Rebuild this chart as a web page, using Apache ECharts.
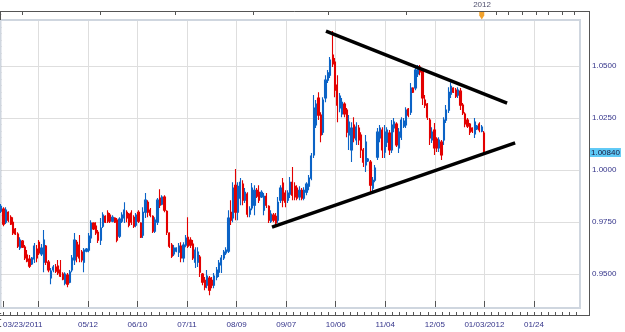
<!DOCTYPE html>
<html><head><meta charset="utf-8">
<script src="https://cdn.jsdelivr.net/npm/echarts@6/dist/echarts.min.js"></script>
<style>html,body{margin:0;padding:0;background:#fff}#c{width:625px;height:332px}</style>
</head><body><div id="c"></div>
<script>
// ---- data (daily candles, 03/23/2011 .. 01/03/2012) ----
const startDate = '2011-03-23';
const nSlots = 245; // 205 trading days + empty future space

const opens = [
0.9802,0.9812,0.9749,0.9797,0.9773,0.9749,0.9716,0.9692,0.9625,0.9658,
0.9629,0.9591,0.9572,0.9548,0.9572,0.9620,0.9653,0.9596,0.9557,0.9634,
0.9557,0.9481,0.9519,0.9534,0.9538,0.9519,0.9500,0.9456,0.9495,0.9460,
0.9519,0.9567,0.9653,0.9639,0.9605,0.9557,0.9610,0.9615,0.9673,0.9745,
0.9730,0.9701,0.9663,0.9730,0.9778,0.9793,0.9783,0.9754,0.9769,0.9759,
0.9682,0.9754,0.9769,0.9797,0.9788,0.9793,0.9773,0.9735,0.9797,0.9745,
0.9687,0.9797,0.9845,0.9807,0.9778,0.9706,0.9749,0.9865,0.9836,0.9870,
0.9802,0.9697,0.9639,0.9596,0.9610,0.9605,0.9634,0.9577,0.9639,0.9677,
0.9663,0.9644,0.9557,0.9557,0.9582,0.9500,0.9470,0.9446,0.9481,0.9470,
0.9446,0.9485,0.9509,0.9543,0.9577,0.9601,0.9610,0.9797,0.9769,0.9927,
0.9797,0.9865,0.9932,0.9855,0.9884,0.9788,0.9817,0.9831,0.9903,0.9893,
0.9870,0.9807,0.9874,0.9826,0.9754,0.9783,0.9778,0.9759,0.9855,0.9937,
0.9889,0.9855,0.9884,0.9941,0.9922,0.9913,0.9870,0.9903,0.9865,0.9893,
0.9922,0.9961,1.0072,1.0216,1.0346,1.0264,1.0182,1.0346,1.0432,1.0456,
1.0553,1.0519,1.0408,1.0298,1.0269,1.0317,1.0288,1.0168,1.0096,1.0216,
1.0144,1.0202,1.0168,1.0096,1.0024,1.0043,1.0038,0.9913,0.9951,1.0062,
1.0154,1.0192,1.0086,1.0134,1.0178,1.0096,1.0202,1.0221,1.0106,1.0158,
1.0211,1.0216,1.0293,1.0278,1.0394,1.0394,1.0462,1.0495,1.0481,1.0336,
1.0317,1.0240,1.0144,1.0192,1.0149,1.0106,1.0134,1.0144,1.0240,1.0288,
1.0365,1.0394,1.0384,1.0360,1.0379,1.0312,1.0269,1.0240,1.0221,1.0202,
1.0173,1.0197,1.0221,1.0187,1.0178];

const closes = [
0.9826,0.9740,0.9807,0.9759,0.9740,0.9697,0.9692,0.9634,0.9663,0.9629,
0.9577,0.9562,0.9538,0.9577,0.9634,0.9577,0.9601,0.9625,0.9663,0.9557,
0.9519,0.9514,0.9534,0.9514,0.9505,0.9490,0.9475,0.9500,0.9451,0.9509,
0.9577,0.9663,0.9586,0.9577,0.9567,0.9615,0.9620,0.9682,0.9745,0.9716,
0.9697,0.9663,0.9721,0.9783,0.9749,0.9754,0.9754,0.9773,0.9749,0.9663,
0.9764,0.9783,0.9807,0.9769,0.9735,0.9749,0.9730,0.9783,0.9754,0.9677,
0.9797,0.9855,0.9797,0.9783,0.9706,0.9759,0.9855,0.9831,0.9870,0.9807,
0.9701,0.9634,0.9586,0.9625,0.9625,0.9634,0.9577,0.9639,0.9673,0.9634,
0.9639,0.9577,0.9615,0.9605,0.9509,0.9460,0.9436,0.9490,0.9422,0.9446,
0.9490,0.9519,0.9553,0.9577,0.9605,0.9615,0.9769,0.9759,0.9913,0.9797,
0.9922,0.9941,0.9855,0.9893,0.9788,0.9812,0.9913,0.9903,0.9874,0.9855,
0.9893,0.9874,0.9831,0.9759,0.9788,0.9759,0.9745,0.9845,0.9913,0.9855,
0.9845,0.9889,0.9941,0.9879,0.9870,0.9865,0.9903,0.9865,0.9903,0.9932,
0.9961,1.0067,1.0298,1.0317,1.0264,1.0168,1.0336,1.0432,1.0467,1.0529,
1.0510,1.0384,1.0312,1.0355,1.0326,1.0269,1.0182,1.0230,1.0202,1.0154,
1.0206,1.0144,1.0096,1.0038,1.0134,1.0053,0.9927,0.9951,1.0009,1.0182,
1.0202,1.0096,1.0182,1.0192,1.0096,1.0216,1.0230,1.0120,1.0182,1.0240,
1.0235,1.0288,1.0264,1.0394,1.0374,1.0481,1.0495,1.0471,1.0346,1.0312,
1.0254,1.0154,1.0182,1.0106,1.0106,1.0144,1.0072,1.0240,1.0288,1.0374,
1.0403,1.0374,1.0355,1.0384,1.0312,1.0274,1.0221,1.0211,1.0182,1.0187,
1.0230,1.0211,1.0192,1.0206,1.0084];

const lows = [
0.9793,0.9730,0.9740,0.9749,0.9735,0.9687,0.9687,0.9625,0.9615,0.9625,
0.9567,0.9557,0.9529,0.9543,0.9553,0.9557,0.9591,0.9586,0.9509,0.9543,
0.9509,0.9451,0.9509,0.9505,0.9495,0.9485,0.9470,0.9446,0.9436,0.9456,
0.9509,0.9543,0.9557,0.9557,0.9557,0.9509,0.9605,0.9605,0.9649,0.9711,
0.9687,0.9649,0.9639,0.9721,0.9745,0.9745,0.9745,0.9749,0.9745,0.9653,
0.9673,0.9745,0.9745,0.9749,0.9725,0.9735,0.9721,0.9725,0.9745,0.9673,
0.9673,0.9769,0.9773,0.9773,0.9697,0.9697,0.9735,0.9817,0.9831,0.9797,
0.9687,0.9625,0.9577,0.9586,0.9605,0.9582,0.9557,0.9557,0.9629,0.9625,
0.9625,0.9567,0.9529,0.9534,0.9485,0.9446,0.9422,0.9432,0.9398,0.9432,
0.9432,0.9470,0.9485,0.9505,0.9567,0.9591,0.9601,0.9735,0.9749,0.9759,
0.9759,0.9831,0.9831,0.9841,0.9773,0.9773,0.9807,0.9783,0.9865,0.9841,
0.9865,0.9783,0.9817,0.9745,0.9745,0.9749,0.9735,0.9745,0.9841,0.9821,
0.9821,0.9841,0.9865,0.9855,0.9855,0.9855,0.9855,0.9855,0.9855,0.9879,
0.9903,0.9951,1.0058,1.0202,1.0240,1.0134,1.0168,1.0326,1.0418,1.0442,
1.0495,1.0350,1.0230,1.0278,1.0254,1.0254,1.0158,1.0096,1.0038,1.0134,
1.0120,1.0120,1.0058,1.0014,0.9990,1.0038,0.9893,0.9893,0.9941,1.0048,
1.0134,1.0058,1.0058,1.0110,1.0072,1.0082,1.0182,1.0110,1.0082,1.0144,
1.0202,1.0202,1.0254,1.0264,1.0370,1.0384,1.0447,1.0456,1.0312,1.0298,
1.0240,1.0120,1.0130,1.0072,1.0086,1.0086,1.0048,1.0120,1.0226,1.0274,
1.0346,1.0370,1.0346,1.0346,1.0288,1.0264,1.0206,1.0202,1.0168,1.0178,
1.0154,1.0192,1.0182,1.0182,1.0082];

const highs = [
0.9836,0.9821,0.9821,0.9802,0.9783,0.9773,0.9721,0.9701,0.9677,0.9663,
0.9639,0.9615,0.9591,0.9582,0.9649,0.9639,0.9663,0.9644,0.9711,0.9639,
0.9567,0.9529,0.9543,0.9548,0.9567,0.9567,0.9509,0.9509,0.9505,0.9519,
0.9591,0.9697,0.9663,0.9687,0.9615,0.9625,0.9625,0.9697,0.9759,0.9749,
0.9749,0.9711,0.9769,0.9797,0.9783,0.9807,0.9793,0.9783,0.9773,0.9769,
0.9773,0.9797,0.9845,0.9807,0.9793,0.9807,0.9783,0.9793,0.9807,0.9749,
0.9821,0.9889,0.9855,0.9817,0.9783,0.9773,0.9865,0.9908,0.9879,0.9879,
0.9807,0.9701,0.9649,0.9639,0.9629,0.9649,0.9653,0.9653,0.9687,0.9773,
0.9677,0.9663,0.9629,0.9629,0.9591,0.9505,0.9485,0.9519,0.9490,0.9485,
0.9505,0.9534,0.9567,0.9591,0.9615,0.9629,0.9807,0.9855,0.9941,1.0005,
0.9941,0.9961,0.9951,0.9913,0.9893,0.9826,0.9937,0.9927,0.9913,0.9927,
0.9903,0.9889,0.9889,0.9831,0.9807,0.9793,0.9793,0.9870,0.9927,0.9961,
0.9903,0.9903,0.9966,1.0014,0.9941,0.9927,0.9922,0.9913,0.9917,0.9941,
0.9976,1.0082,1.0360,1.0336,1.0374,1.0278,1.0350,1.0456,1.0481,1.0543,
1.0668,1.0538,1.0456,1.0370,1.0346,1.0326,1.0298,1.0264,1.0230,1.0254,
1.0230,1.0216,1.0182,1.0106,1.0168,1.0058,1.0048,0.9966,1.0024,1.0202,
1.0216,1.0206,1.0216,1.0206,1.0192,1.0240,1.0250,1.0230,1.0202,1.0254,
1.0250,1.0302,1.0298,1.0418,1.0398,1.0495,1.0505,1.0505,1.0490,1.0360,
1.0322,1.0250,1.0206,1.0226,1.0158,1.0158,1.0144,1.0254,1.0312,1.0398,
1.0422,1.0398,1.0394,1.0398,1.0394,1.0322,1.0278,1.0250,1.0226,1.0206,
1.0250,1.0216,1.0230,1.0216,1.0187];

// triangle trendlines: [bar index, price]
const upperTrend = [[137.2, 1.0668], [213.7, 1.0322]];
const lowerTrend = [[114.4, 0.9725], [217.1, 1.0130]];

// x-axis ticks and labels (bar indices)
const gridIdx = [15, 36, 57, 78, 99, 120, 141, 162, 183, 204, 225];
const labelIdx = [0, 36, 57, 78, 99, 120, 141, 162, 183, 204, 225];
const labelText = ['03/23/2011', '05/12', '06/10', '07/11', '08/09', '09/07', '10/06', '11/04', '12/05', '01/03/2012', '01/24'];
const majorTickIdx = [0].concat(gridIdx);
const topTickIdx = [8, 41, 73, 106, 138, 171, 203, 209, 214, 220, 226, 231, 237, 242];
const yearMarkIdx = 203;
const yearMarkText = '2012';

// ---- build ----
function weekdayDates(start, n) {
  const out = [];
  const d = new Date(start + 'T00:00:00Z');
  while (out.length < n) {
    const wd = d.getUTCDay();
    if (wd !== 0 && wd !== 6) out.push(d.toISOString().slice(0, 10));
    d.setUTCDate(d.getUTCDate() + 1);
  }
  return out;
}
const dates = weekdayDates(startDate, nSlots);
const candles = opens.map((o, i) => [o, closes[i], lows[i], highs[i]]);
const lastClose = closes[closes.length - 1];

const FONT = 'Liberation Sans';
const LBL = '#34348a';
const AX = '#555555';
const UP = '#0b63c6';
const DOWN = '#e30000';
const GRIDC = '#dedede';

const chart = echarts.init(document.getElementById('c'), null, {renderer: 'canvas'});
chart.setOption({
  animation: false,
  backgroundColor: '#ffffff',
  grid: [
    {left: 0, right: 45, top: 14, bottom: 6},
    {left: 0, right: 45, top: 20, bottom: 24}
  ],
  xAxis: [
    {type: 'category', gridIndex: 0, data: dates, boundaryGap: true, show: false},
    {type: 'value', gridIndex: 0, min: -0.5, max: nSlots - 0.5, show: false},
    {type: 'category', gridIndex: 1, data: dates, position: 'bottom', offset: 7, boundaryGap: true,
      axisLine: {show: false},
      axisTick: {show: true, inside: true, length: 7, alignWithLabel: true,
        interval: (i) => majorTickIdx.includes(i), lineStyle: {color: AX}},
      axisLabel: {show: true, interval: (i) => labelIdx.includes(i),
        formatter: (v, i) => labelText[labelIdx.indexOf(i)] || '',
        fontFamily: FONT, fontSize: 8, color: LBL, margin: 6, alignMinLabel: 'left'},
      splitLine: {show: true, alignWithLabel: true, interval: (i) => gridIdx.includes(i),
        lineStyle: {color: GRIDC, width: 1}}
    },
    {type: 'category', gridIndex: 1, data: dates, position: 'bottom', offset: 7, boundaryGap: true,
      axisLine: {show: false}, axisLabel: {show: false}, splitLine: {show: false},
      axisTick: {show: true, inside: true, length: 3, alignWithLabel: true,
        interval: (i) => i % 3 === 0, lineStyle: {color: AX}}
    },
    {type: 'category', gridIndex: 1, data: dates, position: 'top', offset: 9, boundaryGap: true,
      axisLine: {show: false}, splitLine: {show: false},
      axisTick: {show: true, inside: true, length: 4, alignWithLabel: true,
        interval: (i) => topTickIdx.includes(i), lineStyle: {color: AX}},
      axisLabel: {show: true, interval: (i) => i === yearMarkIdx, formatter: () => yearMarkText,
        fontFamily: FONT, fontSize: 8, color: '#50506e', margin: 2}
    }
  ],
  yAxis: [
    {type: 'value', gridIndex: 0, position: 'right', offset: 9, min: 0.925, max: 1.075, interval: 0.025,
      axisLine: {show: false},
      axisTick: {show: true, inside: true, length: 9, lineStyle: {color: AX}},
      minorTick: {show: true, splitNumber: 8, length: 3, lineStyle: {color: AX}},
      axisLabel: {show: true, margin: 3, fontFamily: FONT, fontSize: 8, color: LBL,
        formatter: (v) => (v < 0.94 || v > 1.06) ? '' : v.toFixed(4)},
      splitLine: {show: true, lineStyle: {width: 1,
        color: ['rgba(0,0,0,0)', GRIDC, GRIDC, GRIDC, GRIDC, GRIDC, 'rgba(0,0,0,0)']}}
    },
    {type: 'value', gridIndex: 1, min: 0, max: 1, show: false}
  ],
  series: [
    {type: 'candlestick', xAxisIndex: 0, yAxisIndex: 0, data: candles, barWidth: 1.7,
      itemStyle: {color: UP, color0: DOWN, borderColor: UP, borderColor0: DOWN, borderWidth: 1.1},
      markLine: {silent: true, symbol: 'none', animation: false, precision: 5,
        data: [{yAxis: lastClose}],
        lineStyle: {color: 'rgba(0,0,0,0)', width: 0},
        label: {show: true, position: 'end', distance: 10,
          formatter: (p) => Number(p.value).toFixed(5),
          backgroundColor: '#5ec9f6', color: '#1a1a40', fontFamily: FONT, fontSize: 8,
          padding: [1, 1, 0, 1]}
      }
    },
    {type: 'line', xAxisIndex: 1, yAxisIndex: 0, data: upperTrend, symbol: 'none', silent: true, z: 5,
      lineStyle: {color: '#000000', width: 3.5}},
    {type: 'line', xAxisIndex: 1, yAxisIndex: 0, data: lowerTrend, symbol: 'none', silent: true, z: 5,
      lineStyle: {color: '#000000', width: 3.5}}
  ]
});

const mx = chart.convertToPixel({xAxisIndex: 0}, yearMarkIdx);
chart.setOption({
  graphic: [
    {type: 'rect', silent: true, z: 1, shape: {x: 0.5, y: 20, width: 579.5, height: 288},
      style: {fill: 'none', stroke: '#cfd6df', lineWidth: 2}},
    {type: 'rect', silent: true, z: 50, shape: {x: 581, y: 12, width: 8, height: 7}, style: {fill: '#fff'}},
    {type: 'rect', silent: true, z: 50, shape: {x: 581, y: 309.5, width: 8, height: 5.5}, style: {fill: '#fff'}},
    {type: 'rect', silent: true, z: 50, shape: {x: 579, y: 316.5, width: 16, height: 14}, style: {fill: '#fff'}},
    {type: 'line', silent: true, z: 60, shape: {x1: 0, y1: 11.5, x2: 589.5, y2: 11.5}, style: {stroke: AX, lineWidth: 1}},
    {type: 'line', silent: true, z: 60, shape: {x1: 589.5, y1: 11, x2: 589.5, y2: 316}, style: {stroke: AX, lineWidth: 1}},
    {type: 'line', silent: true, z: 60, shape: {x1: 0, y1: 315.5, x2: 590, y2: 315.5}, style: {stroke: AX, lineWidth: 1}},
    {type: 'line', silent: true, z: 60, shape: {x1: 0.5, y1: 11, x2: 0.5, y2: 20}, style: {stroke: AX, lineWidth: 1}},
    {type: 'polygon', silent: true, z: 70,
      shape: {points: [[mx - 2.5, 12], [mx + 2.5, 12], [mx + 2.5, 15.5], [mx, 19.5], [mx - 2.5, 15.5]]},
      style: {fill: '#f2a22c'}}
  ]
});
</script>
</body></html>
